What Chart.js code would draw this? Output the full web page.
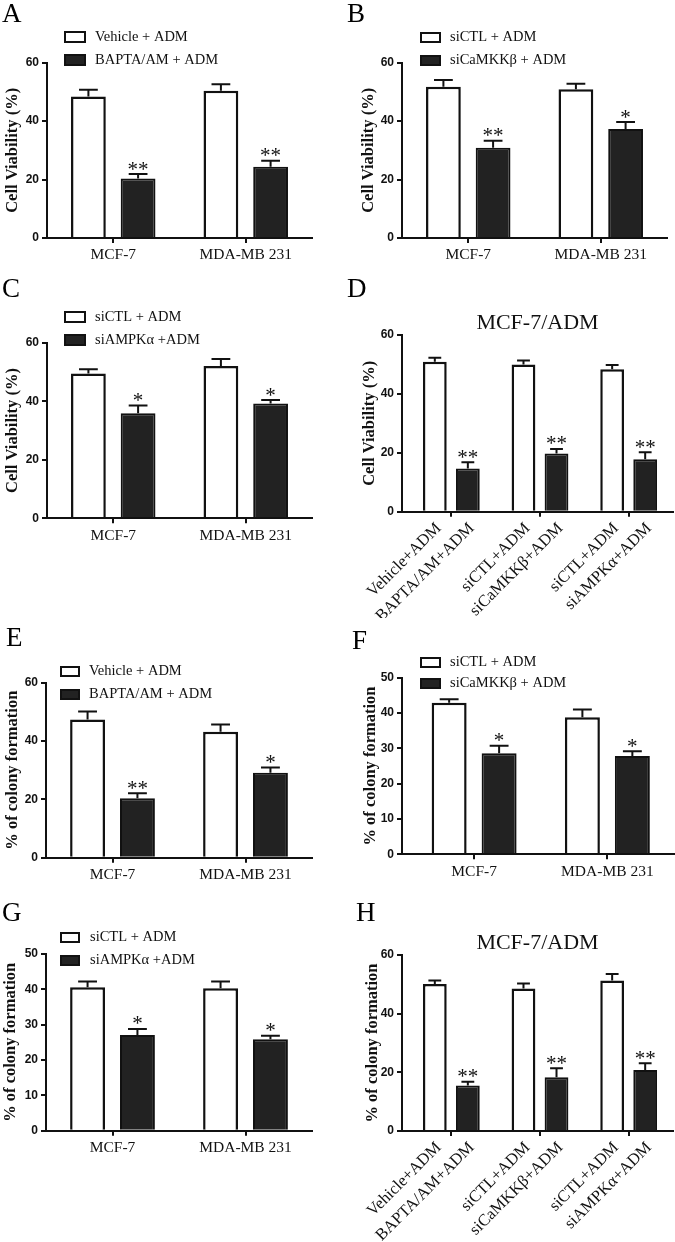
<!DOCTYPE html>
<html>
<head>
<meta charset="utf-8">
<script src="https://cdn.jsdelivr.net/npm/chart.js@4.4.1/dist/chart.umd.min.js"></script>
<style>
  html, body { margin: 0; padding: 0; background: #fff; }
  #fig { position: relative; width: 675px; height: 1242px; overflow: hidden; }
  #fig canvas { position: absolute; }
  .tag { position: absolute; font-family: "Liberation Serif", "Times New Roman", serif;
         font-size: 27px; line-height: 27px; color: #000; }
</style>
</head>
<body>
<div id="fig"></div>
<script>
// --- DATA (mean and upper SEM) ---
const cellLines = ['MCF-7', 'MDA-MB 231'];
const resistGroups = ['BAPTA/AM', 'siCaMKKβ', 'siAMPKα'];
const ctrlBarLabels = ['Vehicle+ADM', 'siCTL+ADM', 'siCTL+ADM'];
const treatBarLabels = ['BAPTA/AM+ADM', 'siCaMKKβ+ADM', 'siAMPKα+ADM'];
const ticks60 = [0, 20, 40, 60];
const ticks50 = [0, 10, 20, 30, 40, 50];

// A - viability, BAPTA/AM
const aVehicle = [48.4, 50.4];
const aVehicleSem = [2.3, 2.2];
const aBapta = [20.4, 24.4];
const aBaptaSem = [1.5, 2.0];
const aStars = ['**', '**'];

// B - viability, siCaMKKβ
const bSiCtl = [51.8, 50.9];
const bSiCtlSem = [2.3, 1.9];
const bSiCamkk = [30.9, 37.3];
const bSiCamkkSem = [2.4, 2.4];
const bStars = ['**', '*'];

// C - viability, siAMPKα
const cSiCtl = [49.5, 52.0];
const cSiCtlSem = [1.4, 2.4];
const cSiAmpk = [35.9, 39.2];
const cSiAmpkSem = [2.6, 1.2];
const cStars = ['*', '*'];

// D - viability, MCF-7/ADM
const dCtrl = [50.9, 50.0, 48.4];
const dCtrlSem = [1.4, 1.3, 1.4];
const dTreat = [14.7, 19.8, 17.8];
const dTreatSem = [2.1, 1.5, 2.4];
const dStars = ['**', '**', '**'];

// E - colony formation, BAPTA/AM
const eVehicle = [47.4, 43.2];
const eVehicleSem = [2.7, 2.5];
const eBapta = [20.4, 29.1];
const eBaptaSem = [1.7, 1.8];
const eStars = ['**', '*'];

// F - colony formation, siCaMKKβ
const fSiCtl = [42.9, 38.8];
const fSiCtlSem = [1.0, 2.2];
const fSiCamkk = [28.6, 27.8];
const fSiCamkkSem = [2.1, 1.4];
const fStars = ['*', '*'];

// G - colony formation, siAMPKα
const gSiCtl = [40.6, 40.3];
const gSiCtlSem = [1.6, 1.9];
const gSiAmpk = [27.1, 25.9];
const gSiAmpkSem = [1.7, 1.0];
const gStars = ['*', '*'];

// H - colony formation, MCF-7/ADM
const hCtrl = [50.1, 48.6, 51.3];
const hCtrlSem = [1.2, 1.7, 2.2];
const hTreat = [15.5, 18.3, 20.8];
const hTreatSem = [1.3, 3.1, 2.3];
const hStars = ['**', '**', '**'];

// --- STYLE ---
const INK = '#111111';
const FILL = '#222222';
const SERIF = '"Liberation Serif", "Times New Roman", serif';
const SANS = '"Liberation Sans", Arial, sans-serif';
const VIAB = 'Cell Viability (%)';
const COLONY = '% of colony formation';

// --- PANELS (layout in page pixels) ---
const panels = [
  { tag: 'A', tagAt: [2, 0], box: [0, 0, 337, 278], axis: { x: 47, y: 238, top: 62.7, right: 312 }, titleX: 13,
    yTitle: VIAB, ticks: ticks60, labels: cellLines, names: ['Vehicle + ADM', 'BAPTA/AM + ADM'],
    ctrl: aVehicle, ctrlSem: aVehicleSem, treat: aBapta, treatSem: aBaptaSem, stars: aStars,
    legend: { x: 64, y: 31, dy: 23, w: 22, h: 12, tx: 95 } },
  { tag: 'B', tagAt: [347, 0], box: [337, 0, 338, 278], axis: { x: 402, y: 238, top: 62.7, right: 667 }, titleX: 368.5,
    yTitle: VIAB, ticks: ticks60, labels: cellLines, names: ['siCTL + ADM', 'siCaMKKβ + ADM'],
    ctrl: bSiCtl, ctrlSem: bSiCtlSem, treat: bSiCamkk, treatSem: bSiCamkkSem, stars: bStars,
    legend: { x: 420, y: 32, dy: 23, w: 21, h: 11, tx: 450 } },
  { tag: 'C', tagAt: [2, 275], box: [0, 278, 337, 272], axis: { x: 47, y: 518.3, top: 342.7, right: 312 }, titleX: 13,
    yTitle: VIAB, ticks: ticks60, labels: cellLines, names: ['siCTL + ADM', 'siAMPKα +ADM'],
    ctrl: cSiCtl, ctrlSem: cSiCtlSem, treat: cSiAmpk, treatSem: cSiAmpkSem, stars: cStars,
    legend: { x: 64, y: 311, dy: 23, w: 22, h: 12, tx: 95 } },
  { tag: 'D', tagAt: [347, 275], box: [337, 278, 338, 340], axis: { x: 402, y: 511.7, top: 335, right: 673 }, titleX: 370,
    gap: 5, heading: 'MCF-7/ADM', headY: 323,
    yTitle: VIAB, ticks: ticks60, labels: resistGroups, names: ['Control', 'Treated'],
    ctrl: dCtrl, ctrlSem: dCtrlSem, treat: dTreat, treatSem: dTreatSem, stars: dStars,
    barLabels: [ctrlBarLabels, treatBarLabels] },
  { tag: 'E', tagAt: [6, 624], box: [0, 600, 337, 295], axis: { x: 46, y: 857.7, top: 682.7, right: 312 }, titleX: 12.5,
    yTitle: COLONY, ticks: ticks60, labels: cellLines, names: ['Vehicle + ADM', 'BAPTA/AM + ADM'],
    ctrl: eVehicle, ctrlSem: eVehicleSem, treat: eBapta, treatSem: eBaptaSem, stars: eStars,
    legend: { x: 60, y: 666, dy: 23, w: 20, h: 11, tx: 89 } },
  { tag: 'F', tagAt: [352, 627], box: [337, 600, 338, 295], axis: { x: 402, y: 854.3, top: 677.7, right: 674 }, titleX: 371,
    gap: 5.5,
    yTitle: COLONY, ticks: ticks50, labels: cellLines, names: ['siCTL + ADM', 'siCaMKKβ + ADM'],
    ctrl: fSiCtl, ctrlSem: fSiCtlSem, treat: fSiCamkk, treatSem: fSiCamkkSem, stars: fStars,
    legend: { x: 420, y: 657, dy: 21, w: 21, h: 11, tx: 450 } },
  { tag: 'G', tagAt: [2, 899], box: [0, 895, 337, 275], axis: { x: 46, y: 1130.7, top: 954, right: 312 }, titleX: 11,
    yTitle: COLONY, ticks: ticks50, labels: cellLines, names: ['siCTL + ADM', 'siAMPKα +ADM'],
    ctrl: gSiCtl, ctrlSem: gSiCtlSem, treat: gSiAmpk, treatSem: gSiAmpkSem, stars: gStars,
    legend: { x: 60, y: 932, dy: 23, w: 20, h: 11, tx: 90 } },
  { tag: 'H', tagAt: [356, 899], box: [337, 895, 338, 347], axis: { x: 402, y: 1131, top: 955, right: 673 }, titleX: 373,
    gap: 5, heading: 'MCF-7/ADM', headY: 943,
    yTitle: COLONY, ticks: ticks60, labels: resistGroups, names: ['Control', 'Treated'],
    ctrl: hCtrl, ctrlSem: hCtrlSem, treat: hTreat, treatSem: hTreatSem, stars: hStars,
    barLabels: [ctrlBarLabels, treatBarLabels] }
];

const fig = document.getElementById('fig');

// error bars, significance stars, legend and per-bar labels
function extras(p) {
  return {
    id: 'extras' + p.tag,
    afterDatasetsDraw(chart) {
      const ctx = chart.ctx;
      const y = chart.scales.y;
      const [cx, cy] = p.box;
      const sems = [p.ctrlSem, p.treatSem];
      ctx.save();
      ctx.strokeStyle = INK;
      ctx.fillStyle = INK;
      ctx.lineWidth = 2;
      chart.data.datasets.forEach((ds, i) => {
        chart.getDatasetMeta(i).data.forEach((bar, j) => {
          const cap = y.getPixelForValue(ds.data[j] + sems[i][j]);
          const half = bar.width * 0.27;
          ctx.beginPath();
          ctx.moveTo(bar.x, bar.y);
          ctx.lineTo(bar.x, cap);
          ctx.moveTo(bar.x - half, cap);
          ctx.lineTo(bar.x + half, cap);
          ctx.stroke();
          if (i === 1 && p.stars[j]) {
            ctx.font = '21px ' + SERIF;
            ctx.textAlign = 'center';
            ctx.textBaseline = 'alphabetic';
            ctx.fillText(p.stars[j], bar.x, cap + 1.5);
          }
          if (p.barLabels) {
            ctx.save();
            ctx.font = '16.5px ' + SERIF;
            ctx.textAlign = 'right';
            ctx.textBaseline = 'middle';
            ctx.translate(bar.x + 4, chart.chartArea.bottom + 14);
            ctx.rotate(-Math.PI / 4);
            ctx.fillText(p.barLabels[i][j], 0, 0);
            ctx.restore();
          }
        });
      });
      if (p.legend) {
        const L = p.legend;
        ctx.font = '14.5px ' + SERIF;
        ctx.textAlign = 'left';
        ctx.textBaseline = 'middle';
        chart.data.datasets.forEach((ds, i) => {
          const bx = L.x - cx, by = L.y - cy + i * L.dy;
          ctx.fillStyle = ds.backgroundColor;
          ctx.fillRect(bx, by, L.w, L.h);
          ctx.strokeRect(bx + 1, by + 1, L.w - 2, L.h - 2);
          ctx.fillStyle = INK;
          ctx.fillText(ds.label, L.tx - cx, by + L.h / 2);
        });
      }
      ctx.restore();
    }
  };
}

function makePanel(p) {
  const [cx, cy, cw, ch] = p.box;
  const canvas = document.createElement('canvas');
  canvas.width = cw;
  canvas.height = ch;
  canvas.style.left = cx + 'px';
  canvas.style.top = cy + 'px';
  fig.appendChild(canvas);

  const tag = document.createElement('div');
  tag.className = 'tag';
  tag.textContent = p.tag;
  tag.style.left = p.tagAt[0] + 'px';
  tag.style.top = p.tagAt[1] + 'px';
  fig.appendChild(tag);

  const yTitleSize = 16.5;
  const padLeft = p.titleX - cx - yTitleSize * 1.2 / 2;
  const yWidth = p.axis.x - cx - padLeft;
  const xHeight = cy + ch - p.axis.y;
  const padRight = cx + cw - p.axis.right;
  const headSize = 22;
  const padTop = p.heading ? p.headY - cy - headSize / 2 : p.axis.top - cy;
  const headGap = p.heading ? p.axis.top - cy - padTop - headSize : 0;
  const wide = p.labels.length === 2;

  new Chart(canvas, {
    type: 'bar',
    data: {
      labels: p.labels,
      datasets: [
        { label: p.names[0], data: p.ctrl, backgroundColor: '#ffffff', borderColor: INK, borderWidth: 2.5,
          categoryPercentage: wide ? 0.75 : 0.745, barPercentage: wide ? 0.7 : 0.72 },
        { label: p.names[1], data: p.treat, backgroundColor: FILL, borderColor: INK, borderWidth: 2,
          categoryPercentage: wide ? 0.75 : 0.745, barPercentage: wide ? 0.7 : 0.72 }
      ]
    },
    options: {
      responsive: false,
      animation: false,
      events: [],
      layout: { padding: { left: padLeft, top: padTop, right: padRight, bottom: 0 } },
      plugins: {
        legend: { display: false },
        tooltip: { enabled: false },
        title: {
          display: !!p.heading,
          text: p.heading || '',
          fullSize: false,
          color: INK,
          font: { family: SERIF, size: headSize, weight: 'normal', lineHeight: 1 },
          padding: { top: 0, bottom: headGap }
        }
      },
      scales: {
        x: {
          offset: true,
          grid: { offset: false, drawOnChartArea: false, color: INK, lineWidth: 2, tickLength: 5 },
          border: { color: INK, width: 2, z: 1 },
          ticks: { display: !p.barLabels, color: INK, padding: 3, maxRotation: 0, minRotation: 0, autoSkip: false,
                   font: { family: SERIF, size: 15.5, lineHeight: 1.2 } },
          afterFit: s => { s.height = xHeight; },
          afterBuildTicks: s => {
            if (!p.gap) return;
            const n = s.ticks.length;
            const extra = p.gap * n / (s.width - p.gap);
            s._startValue -= extra;
            s._valueRange += extra;
          }
        },
        y: {
          min: p.ticks[0],
          max: p.ticks[p.ticks.length - 1],
          grid: { drawOnChartArea: false, color: INK, lineWidth: 2, tickLength: 5 },
          border: { color: INK, width: 2, z: 1 },
          ticks: { stepSize: p.ticks[1] - p.ticks[0], color: INK, padding: 3,
                   font: { family: SANS, size: 12, weight: 'bold' } },
          title: { display: true, text: p.yTitle, color: INK, padding: 0,
                   font: { family: SERIF, size: yTitleSize, weight: 'bold', lineHeight: 1.2 } },
          afterFit: s => { s.width = yWidth; }
        }
      }
    },
    plugins: [extras(p)]
  });
}

panels.forEach(makePanel);
</script>
</body>
</html>
